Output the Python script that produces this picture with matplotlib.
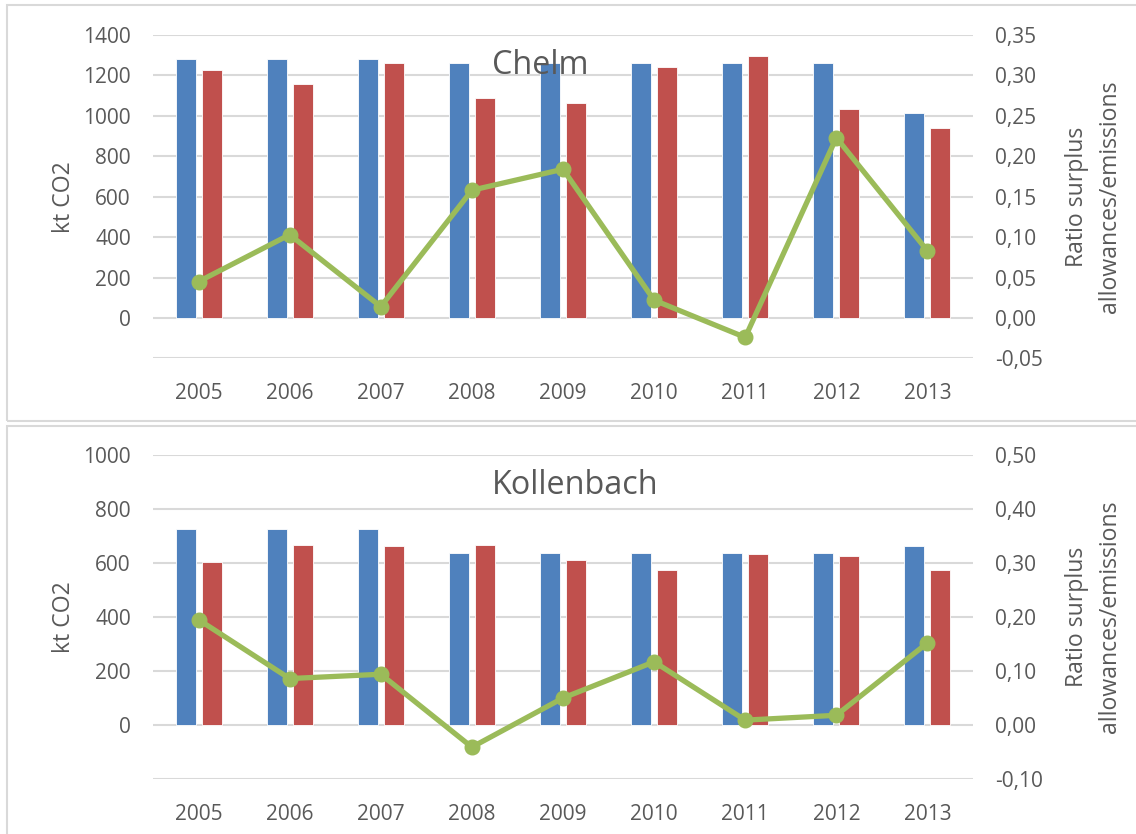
import numpy as np
import matplotlib
matplotlib.use("Agg")
from matplotlib import pyplot as plt
from matplotlib.patches import Rectangle

plt.rcParams['font.family'] = ['Open Sans', 'DejaVu Sans']

#DATA
years = ['2005', '2006', '2007', '2008', '2009', '2010', '2011', '2012', '2013']

chelm_allow = [1280, 1280, 1280, 1263, 1263, 1263, 1263, 1263, 1014]
chelm_emis = [1225, 1160, 1263, 1090, 1065, 1240, 1295, 1034, 940]
chelm_ratio = [0.045, 0.103, 0.014, 0.158, 0.184, 0.022, -0.024, 0.223, 0.083]

koll_allow = [725, 725, 725, 637, 637, 637, 637, 637, 662]
koll_emis = [605, 665, 662, 667, 610, 573, 632, 626, 574]
koll_ratio = [0.195, 0.086, 0.094, -0.041, 0.050, 0.117, 0.009, 0.018, 0.152]

blue = '#4F81BD'
red = '#C0504D'
green = '#9BBB59'
txt = '#595959'
grid = '#D9D9D9'

W, H = 1136, 834
fig = plt.figure(figsize=(W/100, H/100), dpi=100)

#panel frames
fig.patches.append(Rectangle((7/W, 1-421/H), 1.0, 416/H, transform=fig.transFigure,
                             fill=False, edgecolor=grid, lw=1.5))
fig.patches.append(Rectangle((7/W, -0.01), 1.0, 1-426/H+0.01, transform=fig.transFigure,
                             fill=False, edgecolor=grid, lw=1.5))


def panel(rect, title, title_y, allow, emis, ratio, lmax, lstep, rmin, rmax, rstep):
    ax = fig.add_axes(rect)
    x = np.arange(len(years))
    ax.bar(x - 0.143, allow, width=0.22, color=blue, edgecolor='white', lw=0.6, zorder=2)
    ax.bar(x + 0.143, emis, width=0.22, color=red, edgecolor='white', lw=0.6, zorder=2)
    ax.set_xlim(-0.5, len(years) - 0.5)
    ax.set_ylim(-200, lmax)
    ticks = np.arange(-200, lmax + 1, lstep)
    ax.set_yticks(ticks)
    ax.set_yticklabels(['' if t < 0 else str(int(t)) for t in ticks])
    ax.set_xticks(x)
    ax.set_xticklabels(years)
    ax.grid(axis='y', color=grid, lw=1.5, zorder=0)
    ax.set_axisbelow(True)
    for s in ax.spines.values():
        s.set_visible(False)
    ax.tick_params(axis='y', length=0, pad=16, labelsize=15, labelcolor=txt)
    ax.tick_params(axis='x', length=0, pad=18, labelsize=15, labelcolor=txt)
    ax.set_ylabel('kt CO2', fontsize=16.6, color=txt, labelpad=5)

    ax2 = ax.twinx()
    ax2.plot(x, ratio, color=green, lw=3.8, marker='o', markersize=10.5, zorder=3)
    ax2.set_ylim(rmin, rmax)
    rt = np.arange(rmin, rmax + rstep/2, rstep)
    ax2.set_yticks(rt)
    ax2.set_yticklabels([('%.2f' % v).replace('.', ',').replace('-0,00', '0,00') for v in rt])
    for s in ax2.spines.values():
        s.set_visible(False)
    ax2.tick_params(axis='y', length=0, pad=16, labelsize=15, labelcolor=txt)
    ax2.set_ylabel('Ratio surplus\nallowances/emissions', fontsize=16.6, color=txt,
                   labelpad=16, linespacing=1.5)
    fig.text(492/W, 1-title_y/H, title, ha='left', va='center',
             fontsize=23.3, color=txt, zorder=5)
    return ax, ax2


panel([153/W, 1-358.4/H, 820/W, 323.4/H], 'Chelm', 65, chelm_allow, chelm_emis, chelm_ratio,
      1400, 200, -0.05, 0.35, 0.05)
panel([153/W, 1-779/H, 820/W, 324/H], 'Kollenbach', 485, koll_allow, koll_emis, koll_ratio,
      1000, 200, -0.10, 0.50, 0.10)

plt.savefig('out.png', dpi=100)
